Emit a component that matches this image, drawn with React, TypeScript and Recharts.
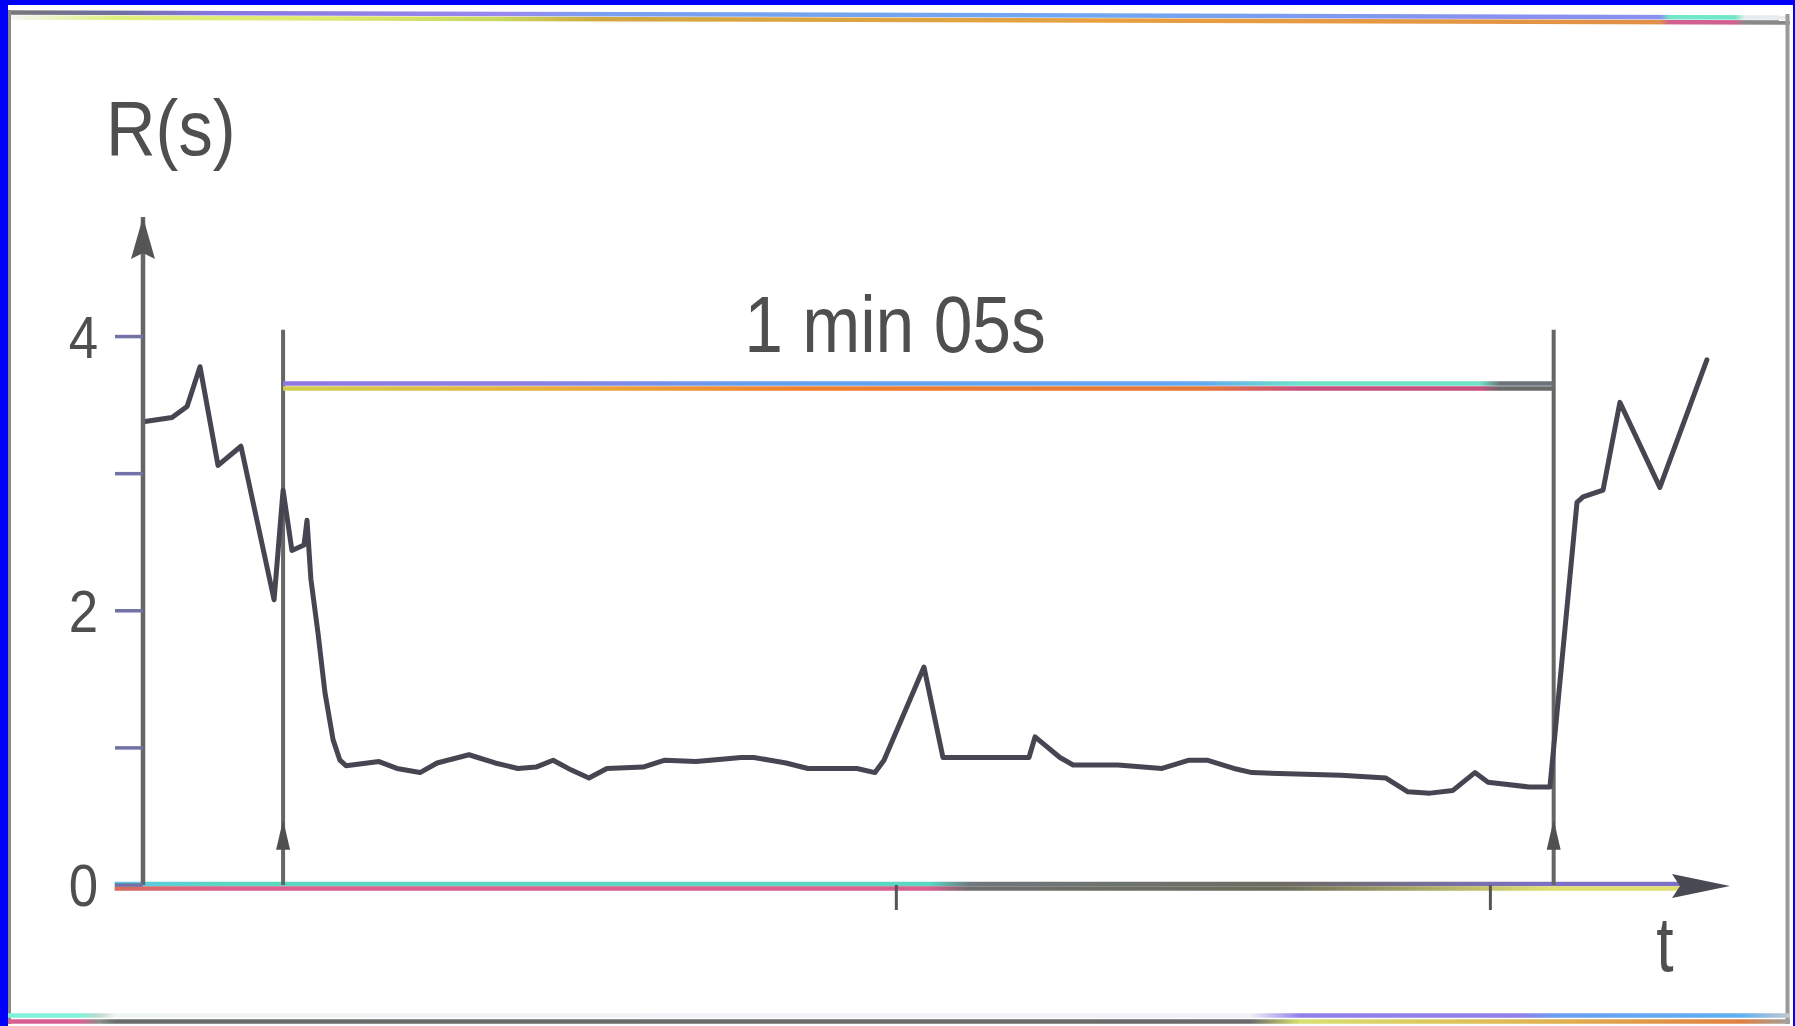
import React from 'react';
import { ComposedChart, Line, XAxis, YAxis, ReferenceLine, ReferenceDot } from 'recharts';

// time in seconds (0 at the R axis)
const timeS = [0.10, 1.48, 2.25, 2.91, 3.83, 5.00, 6.69, 7.15, 7.60, 8.22, 8.37, 8.57, 8.93, 9.29, 9.70, 10.05, 10.36,
  12.05, 12.96, 14.14, 15.01, 16.64, 17.97, 19.14, 20.06, 20.93, 21.84, 22.76, 23.68, 25.52, 26.64, 28.22, 30.52, 31.18,
  32.82, 33.94, 36.44, 37.36, 37.82, 39.86, 40.83, 45.22, 45.53, 46.80, 47.47, 49.76, 52.01, 53.39, 54.31, 55.68, 56.60,
  61.14, 63.44, 64.56, 65.69, 66.86, 67.98, 68.65, 70.74, 71.81, 73.19, 73.50, 74.52, 75.38, 77.42, 79.82];
// R(s) values
const resp = [3.38, 3.41, 3.49, 3.78, 3.06, 3.20, 2.08, 2.88, 2.44, 2.48, 2.66, 2.23, 1.84, 1.40, 1.06, 0.91, 0.87,
  0.90, 0.85, 0.82, 0.89, 0.95, 0.89, 0.85, 0.86, 0.91, 0.84, 0.78, 0.85, 0.86, 0.91, 0.90, 0.93, 0.93,
  0.89, 0.85, 0.85, 0.82, 0.91, 1.59, 0.93, 0.93, 1.08, 0.93, 0.875, 0.875, 0.85, 0.91, 0.91, 0.85, 0.82,
  0.80, 0.78, 0.68, 0.67, 0.69, 0.82, 0.75, 0.715, 0.715, 2.79, 2.83, 2.88, 3.52, 2.90, 3.83];

const yTicks = [0, 1, 2, 3, 4];
const yTickLabels = ['0', '', '2', '', '4'];
const xTicks = [38.45, 68.77];
const markerStart = 7.15;
const markerEnd = 72.0;
const markerTop = 4.05;
const barLevel = 3.64;
const arrowLevel = 0.36;
const yMax = 4.872;
const xMax = 81;
const durationLabel = '1 min 05s';
const yAxisLabel = 'R(s)';
const xAxisLabel = 't';

const data = timeS.map((t, i) => ({ t, r: resp[i] }));

const FONT = '"Liberation Sans", Arial, Helvetica, sans-serif';
const TXT = '#4f4f4f';
const GRAY = '#666666';

const YTick = (props: any) => {
  const { x, y, payload } = props;
  const idx = yTicks.indexOf(payload.value);
  const label = idx >= 0 ? yTickLabels[idx] : '';
  if (!label) return <g />;
  return (
    <text transform={`translate(${x},${y + 21}) scale(0.88,1)`} textAnchor="end" fontSize={60} fontFamily={FONT} fill={TXT}>
      {label}
    </text>
  );
};

const upArrow = (p: any) => (
  <path d={`M${p.cx},${p.cy - 16} L${p.cx - 7},${p.cy + 14} L${p.cx + 7},${p.cy + 14} Z`} fill="#505050" />
);
const yArrow = (p: any) => (
  <path d={`M${p.cx},${p.cy} L${p.cx - 12},${p.cy + 42} L${p.cx},${p.cy + 36} L${p.cx + 12},${p.cy + 42} Z`} fill="#555" />
);
const xArrow = (p: any) => (
  <path d={`M${p.cx},${p.cy + 1} L${p.cx - 58},${p.cy - 11} L${p.cx - 50},${p.cy + 1} L${p.cx - 58},${p.cy + 13} Z`} fill="#4a4a55" />
);

const stops = (arr: [number, string][], x0: number, x1: number) =>
  arr.map(([x, c], i) => <stop key={i} offset={(x - x0) / (x1 - x0)} stopColor={c} />);

export default function App() {
  return (
    <div style={{ position: 'absolute', left: 0, top: 0, width: 1795, height: 1026, overflow: 'hidden' }}>
      <svg width={1795} height={1026} style={{ position: 'absolute', left: 0, top: 0 }}>
        <defs>
          <linearGradient id="gxTop" gradientUnits="userSpaceOnUse" x1={100} y1={0} x2={1740} y2={0}>
            {stops([[100, '#5cc4f0'], [220, '#5ad8c0'], [930, '#5ad8c0'], [970, '#70787e'], [1280, '#6c6c60'], [1550, '#7c70c8'], [1740, '#7c70c8']], 100, 1740)}
          </linearGradient>
          <linearGradient id="gxBot" gradientUnits="userSpaceOnUse" x1={100} y1={0} x2={1740} y2={0}>
            {stops([[100, '#d87050'], [220, '#d8608f'], [930, '#d8608f'], [970, '#6e6e6e'], [1280, '#6c6c5c'], [1550, '#e0e070'], [1740, '#e0e070']], 100, 1740)}
          </linearGradient>
          <linearGradient id="gbTop" gradientUnits="userSpaceOnUse" x1={280} y1={0} x2={1556} y2={0}>
            {stops([[280, '#9078e0'], [540, '#8a80e0'], [760, '#64a0f0'], [1200, '#64a8f0'], [1300, '#70e2c8'], [1480, '#70e2c8'], [1500, '#6c727a'], [1556, '#6c727a']], 280, 1556)}
          </linearGradient>
          <linearGradient id="gbBot" gradientUnits="userSpaceOnUse" x1={280} y1={0} x2={1556} y2={0}>
            {stops([[280, '#d0d050'], [540, '#e8b040'], [800, '#f08030'], [1200, '#e47838'], [1300, '#c85080'], [1480, '#c85080'], [1500, '#6a6a6a'], [1556, '#6a6a6a']], 280, 1556)}
          </linearGradient>
          <linearGradient id="gfTop" gradientUnits="userSpaceOnUse" x1={8} y1={0} x2={1790} y2={0}>
            {stops([[8, '#777'], [115, '#7070a0'], [220, '#8878e0'], [500, '#9a88f0'], [600, '#7aa0f0'], [1100, '#70a8f0'], [1500, '#8890f0'], [1660, '#8890f0'], [1670, '#70e8c8'], [1735, '#70e8c8'], [1745, '#e8ecee'], [1790, '#e8ecee']], 8, 1790)}
          </linearGradient>
          <linearGradient id="gfBot" gradientUnits="userSpaceOnUse" x1={8} y1={0} x2={1790} y2={0}>
            {stops([[8, '#f4f4f4'], [115, '#e0f080'], [325, '#e0e870'], [500, '#c8d860'], [600, '#d0a840'], [1100, '#e8a040'], [1660, '#e09048'], [1670, '#d06090'], [1735, '#d06090'], [1745, '#888'], [1790, '#888']], 8, 1790)}
          </linearGradient>
          <linearGradient id="gbfTop" gradientUnits="userSpaceOnUse" x1={8} y1={0} x2={1790} y2={0}>
            {stops([[8, '#80f0d8'], [80, '#80f0d8'], [100, '#c8d8d0'], [115, '#f0f4f4'], [1250, '#f0f0f8'], [1300, '#9080e8'], [1520, '#9080e8'], [1560, '#6aa0f0'], [1740, '#60b0f0'], [1790, '#c0c8d0']], 8, 1790)}
          </linearGradient>
          <linearGradient id="gbfBot" gradientUnits="userSpaceOnUse" x1={8} y1={0} x2={1790} y2={0}>
            {stops([[8, '#d86090'], [80, '#d86090'], [100, '#889088'], [115, '#6a6e6a'], [1250, '#6a6a6a'], [1300, '#d8e070'], [1560, '#e0b050'], [1740, '#e08040'], [1790, '#a0a0a0']], 8, 1790)}
          </linearGradient>
        </defs>
        <rect x={0} y={0} width={1795} height={1026} fill="#0000fa" />
        <rect x={8} y={5} width={1785} height={1021} fill="#ffffff" />
        <line x1={8} y1={12.5} x2={1790} y2={17.5} stroke="url(#gfTop)" strokeWidth={4.5} />
        <line x1={8} y1={17.5} x2={1790} y2={22.5} stroke="url(#gfBot)" strokeWidth={4.5} />
        <line x1={9.5} y1={10} x2={9.5} y2={1024} stroke="#8a8a8a" strokeWidth={3} />
        <line x1={1787.5} y1={14} x2={1787.5} y2={1024} stroke="#9a9a9a" strokeWidth={4} />
        <line x1={8} y1={1015.5} x2={1790} y2={1015.5} stroke="url(#gbfTop)" strokeWidth={4.5} />
        <line x1={8} y1={1021.5} x2={1790} y2={1021.5} stroke="url(#gbfBot)" strokeWidth={4.5} />
      </svg>

      <div style={{ position: 'absolute', left: 0, top: 0 }}>
        <ComposedChart width={1795} height={1026} data={data} margin={{ top: 217, right: 65, bottom: 111, left: 83 }}>
          <XAxis
            dataKey="t"
            type="number"
            domain={[0, xMax]}
            allowDataOverflow
            ticks={xTicks}
            interval={0}
            height={30}
            axisLine={false}
            tickLine={{ stroke: '#555', strokeWidth: 3 }}
            tickSize={25}
            tick={() => <g />}
          />
          <YAxis
            type="number"
            domain={[0, yMax]}
            allowDataOverflow
            ticks={yTicks}
            interval={0}
            width={60}
            axisLine={{ stroke: GRAY, strokeWidth: 4.5 }}
            tickLine={{ stroke: '#7272a6', strokeWidth: 3.5 }}
            tickSize={28}
            tickMargin={17}
            tick={<YTick />}
          />
          <ReferenceLine ifOverflow="visible" segment={[{ x: -1.45, y: 0.0073 }, { x: 78.6, y: 0.0073 }]} stroke="url(#gxTop)" strokeWidth={4.5} />
          <ReferenceLine ifOverflow="visible" segment={[{ x: -1.45, y: -0.0255 }, { x: 78.6, y: -0.0255 }]} stroke="url(#gxBot)" strokeWidth={4.5} />
          <ReferenceLine ifOverflow="visible" segment={[{ x: markerStart, y: 0 }, { x: markerStart, y: markerTop }]} stroke={GRAY} strokeWidth={4} />
          <ReferenceLine ifOverflow="visible" segment={[{ x: markerEnd, y: 0 }, { x: markerEnd, y: markerTop }]} stroke={GRAY} strokeWidth={4} />
          <ReferenceLine ifOverflow="visible" segment={[{ x: markerStart, y: barLevel + 0.018 }, { x: markerEnd, y: barLevel + 0.018 }]} stroke="url(#gbTop)" strokeWidth={4.5} />
          <ReferenceLine ifOverflow="visible" segment={[{ x: markerStart, y: barLevel - 0.018 }, { x: markerEnd, y: barLevel - 0.018 }]} stroke="url(#gbBot)" strokeWidth={4.5} />
          <ReferenceDot ifOverflow="visible" x={markerStart} y={arrowLevel} r={6} shape={upArrow} />
          <ReferenceDot ifOverflow="visible" x={markerEnd} y={arrowLevel} r={6} shape={upArrow} />
          <ReferenceDot ifOverflow="visible" x={0} y={yMax} r={6} shape={yArrow} />
          <ReferenceDot ifOverflow="visible" x={xMax} y={0} r={6} shape={xArrow} />
          <Line
            type="linear"
            dataKey="r"
            stroke="#464652"
            strokeWidth={5}
            strokeLinejoin="round"
            strokeLinecap="round"
            dot={false}
            activeDot={false}
            isAnimationActive={false}
          />
        </ComposedChart>
      </div>

      <svg width={1795} height={1026} style={{ position: 'absolute', left: 0, top: 0, pointerEvents: 'none' }}>
        <text transform="translate(106,155) scale(0.88,1)" fontSize={78} fontFamily={FONT} fill={TXT}>{yAxisLabel}</text>
        <text transform="translate(895,352) scale(0.87,1)" textAnchor="middle" fontSize={80} fontFamily={FONT} fill={TXT}>{durationLabel}</text>
        <text transform="translate(1665,971) scale(0.8,1)" textAnchor="middle" fontSize={78} fontFamily={FONT} fill={TXT}>{xAxisLabel}</text>
      </svg>
    </div>
  );
}
